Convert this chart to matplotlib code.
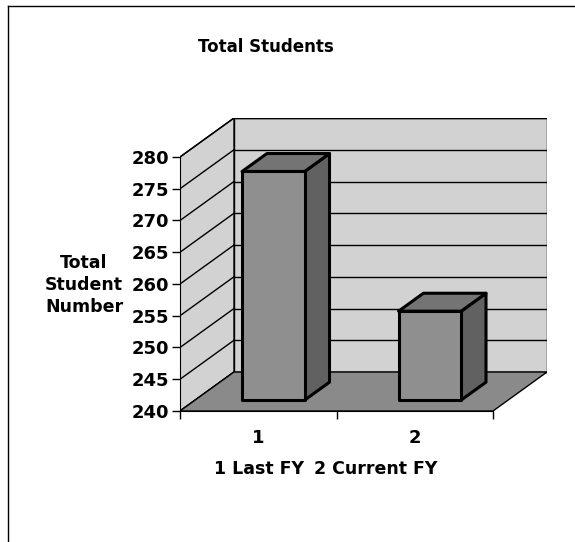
import matplotlib
matplotlib.use("Agg")
import matplotlib.pyplot as plt
from matplotlib.patches import Polygon
from matplotlib.lines import Line2D

# ---- data ----
categories = ["1", "2"]
values = [276, 254]
y_ticks = [240, 245, 250, 255, 260, 265, 270, 275, 280]
title = "Total Students"
y_title = "Total\nStudent\nNumber"
cat_titles = ["1 Last FY", "2 Current FY"]

plt.rcParams['font.family'] = ['DejaVu Sans']

W, H = 575, 542
fig = plt.figure(figsize=(W / 100, H / 100), dpi=100)
fig.patch.set_facecolor('white')

ax = fig.add_axes([180 / W, (H - 411) / H, (547 - 180) / W, (411 - 118) / H])
DX, DY = 0.345, 6.14          # depth offset (x units, value units)
ymin, ymax = y_ticks[0], y_ticks[-1]
n = len(categories)
x0, x1 = 0.5, n + 0.5
ax.set_xlim(x0, x1 + DX)
ax.set_ylim(ymin, ymax + DY)
ax.patch.set_visible(False)

wall_c = '#d2d2d2'
floor_c = '#8a8a8a'
front_c = '#8f8f8f'
side_c = '#616161'
top_c = '#747474'

# back wall
ax.add_patch(Polygon([(x0 + DX, ymin + DY), (x1 + DX, ymin + DY),
                      (x1 + DX, ymax + DY), (x0 + DX, ymax + DY)],
                     closed=True, facecolor=wall_c, edgecolor='black', lw=1, zorder=1))
# side wall
ax.add_patch(Polygon([(x0, ymin), (x0 + DX, ymin + DY),
                      (x0 + DX, ymax + DY), (x0, ymax)],
                     closed=True, facecolor=wall_c, edgecolor='black', lw=1, zorder=1))
# gridlines
for v in y_ticks:
    ax.plot([x0, x0 + DX], [v, v + DY], color='black', lw=1, zorder=2)
    ax.plot([x0 + DX, x1 + DX], [v + DY, v + DY], color='black', lw=1, zorder=2)
# floor
ax.add_patch(Polygon([(x0, ymin), (x1, ymin), (x1 + DX, ymin + DY), (x0 + DX, ymin + DY)],
                     closed=True, facecolor=floor_c, edgecolor='black', lw=1, zorder=3))

# bars
w = 0.2
d0, d1 = 0.28, 0.74
for i, v in enumerate(values):
    c = i + 1
    a = (c - w + d0 * DX, ymin + d0 * DY)
    b = (c + w + d0 * DX, ymin + d0 * DY)
    bt = (c + w + d0 * DX, v + d0 * DY)
    at = (c - w + d0 * DX, v + d0 * DY)
    bb = (c + w + d1 * DX, ymin + d1 * DY)
    btb = (c + w + d1 * DX, v + d1 * DY)
    atb = (c - w + d1 * DX, v + d1 * DY)
    ax.add_patch(Polygon([b, bb, btb, bt], closed=True, facecolor=side_c,
                         edgecolor='black', lw=2.2, joinstyle='round', zorder=4))
    ax.add_patch(Polygon([at, bt, btb, atb], closed=True, facecolor=top_c,
                         edgecolor='black', lw=2.2, joinstyle='round', zorder=4))
    ax.add_patch(Polygon([a, b, bt, at], closed=True, facecolor=front_c,
                         edgecolor='black', lw=2.2, joinstyle='round', zorder=5))

# axes spines / ticks
for s in ['top', 'right']:
    ax.spines[s].set_visible(False)
ax.spines['left'].set_bounds(ymin, ymax)
ax.spines['bottom'].set_bounds(x0, x1)
ax.spines['left'].set_zorder(6)
ax.spines['bottom'].set_zorder(6)
ax.set_yticks(y_ticks)
ax.set_yticklabels([str(t) for t in y_ticks], fontweight='bold')
ax.tick_params(axis='y', direction='out', length=6, width=1, pad=2, labelsize=13)
ax.set_xticks([x0 + k for k in range(n + 1)])
ax.set_xticklabels([])
ax.tick_params(axis='x', which='major', direction='out', length=6, width=1)
ax.set_xticks([k + 1 for k in range(n)], minor=True)
ax.set_xticklabels(categories, minor=True, fontweight='bold')
ax.tick_params(axis='x', which='minor', length=0, pad=13, labelsize=13)

# texts
fig.text(266 / W, 1 - 47 / H, title, ha='center', va='center', fontsize=12, fontweight='bold')
fig.text(84 / W, 1 - 285 / H, y_title, ha='center', va='center', fontsize=12.5,
         fontweight='bold', linespacing=1.3, multialignment='center')
fig.text(259 / W, 1 - 469 / H, cat_titles[0], ha='center', va='center', fontsize=12.5, fontweight='bold')
fig.text(376 / W, 1 - 469 / H, cat_titles[1], ha='center', va='center', fontsize=12.5, fontweight='bold')

# page border (left and top)
fig.add_artist(Line2D([8 / W, 8 / W], [0, 1 - 6 / H], transform=fig.transFigure, color='black', lw=1))
fig.add_artist(Line2D([8 / W, 1], [1 - 6 / H, 1 - 6 / H], transform=fig.transFigure, color='black', lw=1))

fig.savefig('out.png', dpi=100)
